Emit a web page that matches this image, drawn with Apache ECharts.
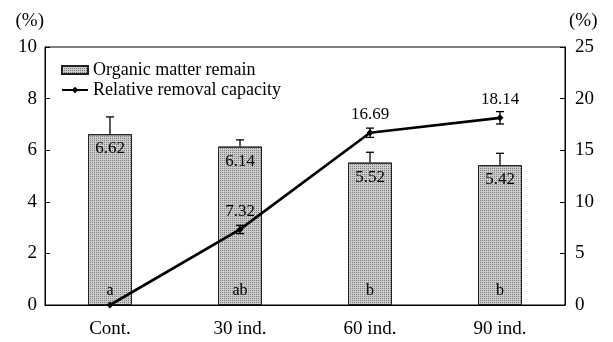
<!DOCTYPE html>
<html><head><meta charset="utf-8">
<script src="https://cdn.jsdelivr.net/npm/echarts@6/dist/echarts.min.js"></script>
<style>html,body{margin:0;padding:0;background:#fff}#c{width:613px;height:342px}</style>
</head><body><div id="c"></div>
<script>
const categories = ['Cont.', '30 ind.', '60 ind.', '90 ind.'];
const organicMatter = [6.62, 6.14, 5.52, 5.42];
const organicErrUpper = [7.29, 6.40, 5.92, 5.88];
const letters = ['a', 'ab', 'b', 'b'];
const removalCapacity = [0, 7.32, 16.69, 18.14];
const removalErr = [0, 0.4, 0.45, 0.6];
const leftTicks = [0, 10, 2];
const rightTicks = [0, 25, 5];

const FONT = 'Liberation Serif';
const chart = echarts.init(document.getElementById('c'));

function errBar(params, api) {
  const x = api.value(0);
  const lo = api.coord([x, api.value(1)]);
  const hi = api.coord([x, api.value(2)]);
  const w = 4;
  const st = { stroke: '#000', lineWidth: 1.3 };
  return { type: 'group', children: [
    { type: 'line', shape: { x1: lo[0], y1: lo[1], x2: hi[0], y2: hi[1] }, style: st },
    { type: 'line', shape: { x1: hi[0] - w, y1: hi[1], x2: hi[0] + w, y2: hi[1] }, style: st }
  ]};
}
function errBar2(params, api) {
  const x = api.value(0);
  const lo = api.coord([x, api.value(1)]);
  const hi = api.coord([x, api.value(2)]);
  const w = 4;
  const st = { stroke: '#000', lineWidth: 1.3 };
  return { type: 'group', children: [
    { type: 'line', shape: { x1: lo[0], y1: lo[1], x2: hi[0], y2: hi[1] }, style: st },
    { type: 'line', shape: { x1: hi[0] - w, y1: hi[1], x2: hi[0] + w, y2: hi[1] }, style: st },
    { type: 'line', shape: { x1: lo[0] - w, y1: lo[1], x2: lo[0] + w, y2: lo[1] }, style: st }
  ]};
}

const barDecal = { symbol: 'rect', symbolSize: 1, dashArrayX: [1, 1], dashArrayY: [1, 1], color: 'rgba(70,70,70,0.6)', rotation: 0 };
const noDecal = { symbol: 'rect', symbolSize: 1, color: 'rgba(0,0,0,0)' };

chart.setOption({
  animation: false,
  aria: { enabled: true, decal: { show: true } },
  textStyle: { fontFamily: FONT, color: '#000' },
  grid: { left: 45, right: 48, top: 47, bottom: 37, show: true, borderColor: '#000', borderWidth: 1 },
  legend: {
    left: 56, top: 56, orient: 'vertical', itemGap: 2, itemWidth: 26, itemHeight: 8,
    textStyle: { fontFamily: FONT, fontSize: 18, color: '#000' },
    data: [
      { name: 'Organic matter remain', icon: 'rect' },
      { name: 'Relative removal capacity' }
    ]
  },
  xAxis: {
    type: 'category', data: categories,
    axisLine: { lineStyle: { color: '#000', width: 1 } },
    axisTick: { inside: true, length: 5, lineStyle: { color: '#000' } },
    axisLabel: { fontFamily: FONT, fontSize: 19, color: '#000', margin: 15 }
  },
  yAxis: [
    {
      type: 'value', min: leftTicks[0], max: leftTicks[1], interval: leftTicks[2],
      name: '(%)', nameLocation: 'end', nameGap: 16,
      nameTextStyle: { fontFamily: FONT, fontSize: 19, color: '#000', align: 'right', padding: [0, 1, 0, 0] },
      axisLine: { show: true, lineStyle: { color: '#000' } },
      axisTick: { show: true, inside: true, length: 5, lineStyle: { color: '#000' } },
      axisLabel: { fontFamily: FONT, fontSize: 19, color: '#000', margin: 8 },
      splitLine: { show: false }
    },
    {
      type: 'value', min: rightTicks[0], max: rightTicks[1], interval: rightTicks[2],
      name: '(%)', nameLocation: 'end', nameGap: 16,
      nameTextStyle: { fontFamily: FONT, fontSize: 19, color: '#000', align: 'left', padding: [0, 0, 0, 4] },
      axisLine: { show: true, lineStyle: { color: '#000' } },
      axisTick: { show: true, inside: true, length: 5, lineStyle: { color: '#000' } },
      axisLabel: { fontFamily: FONT, fontSize: 19, color: '#000', margin: 10 },
      splitLine: { show: false }
    }
  ],
  series: [
    {
      name: 'Organic matter remain', type: 'bar', yAxisIndex: 0, data: organicMatter,
      barWidth: 44,
      itemStyle: { color: '#cccccc', borderColor: '#222', borderWidth: 1, decal: barDecal },
      label: { show: true, position: 'insideTop', distance: 6, fontFamily: FONT, fontSize: 17, color: '#000' }
    },
    {
      name: 'letters', type: 'bar', yAxisIndex: 0, data: organicMatter, barWidth: 44, barGap: '-100%',
      itemStyle: { color: 'rgba(0,0,0,0)', decal: noDecal }, silent: true, legendHoverLink: false,
      label: { show: true, position: 'insideBottom', distance: 6, fontFamily: FONT, fontSize: 16, color: '#000',
        formatter: p => letters[p.dataIndex] }
    },
    {
      name: 'errBars', type: 'custom', yAxisIndex: 0, renderItem: errBar, z: 5,
      data: organicMatter.map((v, i) => [i, v, organicErrUpper[i]])
    },
    {
      name: 'Relative removal capacity', type: 'line', yAxisIndex: 1, data: removalCapacity,
      symbol: 'diamond', symbolSize: 7, z: 10,
      lineStyle: { color: '#000', width: 2.7 }, itemStyle: { color: '#000' },
      label: { show: true, position: 'top', distance: 6, fontFamily: FONT, fontSize: 17, color: '#000',
        formatter: p => p.value === 0 ? '' : p.value.toFixed(2) }
    },
    {
      name: 'lineErr', type: 'custom', yAxisIndex: 1, renderItem: errBar2, z: 9,
      data: removalCapacity.map((v, i) => [i, v - removalErr[i], v + removalErr[i]]).filter((d, i) => removalErr[i] > 0)
    }
  ]
});
</script></body></html>
